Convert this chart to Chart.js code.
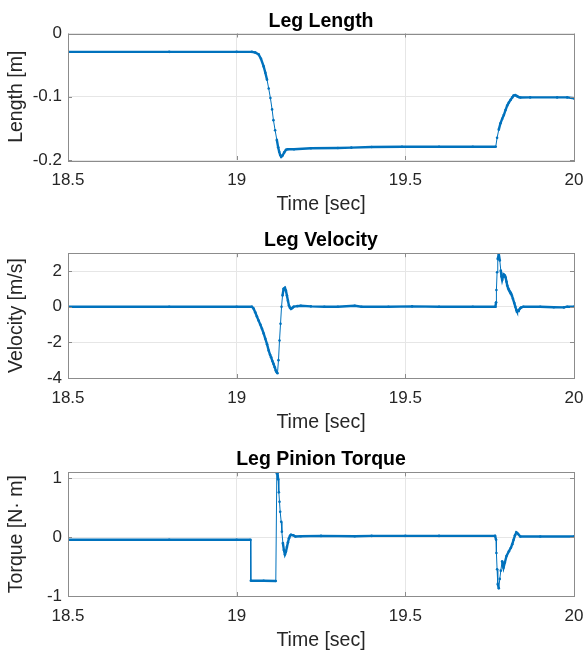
<!DOCTYPE html>
<html>
<head>
<meta charset="utf-8">
<script src="https://cdn.jsdelivr.net/npm/chart.js@4.4.1/dist/chart.umd.min.js"></script>
<style>
  body { margin: 0; background: #fff; }
  canvas { display: block; }
</style>
</head>
<body>
<canvas id="lengthChart" width="586" height="216"></canvas>
<canvas id="velocityChart" width="586" height="218"></canvas>
<canvas id="torqueChart" width="586" height="218"></canvas>
<script>
// Tick labels
const timeTicks = [18.5, 19, 19.5, 20];
const lengthTicks = [-0.2, -0.1, 0];
const velocityTicks = [-4, -2, 0, 2];
const torqueTicks = [-1, 0, 1];

// Leg length [m]
const lengthTime = [18.5, 18.8, 19.0, 19.045, 19.055, 19.065, 19.072, 19.08, 19.085, 19.09, 19.095, 19.1,
  19.105, 19.109, 19.114, 19.119, 19.123, 19.126, 19.129, 19.132, 19.136, 19.141, 19.146, 19.151, 19.17,
  19.22, 19.3, 19.34, 19.4, 19.49, 19.6, 19.7, 19.768, 19.772, 19.777, 19.782, 19.787, 19.792, 19.797,
  19.802, 19.807, 19.812, 19.817, 19.821, 19.826, 19.831, 19.836, 19.841, 19.87, 19.95, 19.98, 20.0];
const lengthValues = [-0.029, -0.029, -0.029, -0.029, -0.030, -0.033, -0.040, -0.052, -0.062, -0.073, -0.087, -0.102,
  -0.120, -0.137, -0.153, -0.168, -0.180, -0.187, -0.192, -0.195, -0.193, -0.188, -0.184, -0.183, -0.183,
  -0.1815, -0.181, -0.1805, -0.1795, -0.179, -0.179, -0.179, -0.179, -0.165, -0.152, -0.142, -0.135, -0.129, -0.121,
  -0.114, -0.109, -0.105, -0.101, -0.098, -0.0975, -0.099, -0.1005, -0.1013, -0.101, -0.101, -0.101, -0.1025];

// Leg velocity [m/s]
const velocityTime = [18.5, 18.8, 19.0, 19.045, 19.05, 19.055, 19.06, 19.065, 19.07, 19.075, 19.08, 19.085,
  19.09, 19.095, 19.099, 19.102, 19.106, 19.109, 19.113, 19.116, 19.119, 19.121, 19.124, 19.127, 19.13,
  19.133, 19.136, 19.139, 19.143, 19.146, 19.149, 19.152, 19.155, 19.158, 19.161, 19.165, 19.169, 19.18,
  19.19, 19.22, 19.26, 19.3, 19.35, 19.37, 19.45, 19.52, 19.6, 19.7, 19.767, 19.769, 19.77, 19.772, 19.774,
  19.777, 19.78, 19.783, 19.785, 19.787, 19.79, 19.792, 19.795, 19.797, 19.8, 19.802, 19.805, 19.807,
  19.81, 19.813, 19.816, 19.819, 19.823, 19.826, 19.829, 19.831, 19.834, 19.836, 19.84, 19.843, 19.85,
  19.9, 19.94, 19.97, 19.98, 20.0];
const velocityValues = [0, 0, 0, 0, -0.1, -0.31, -0.55, -0.78, -1.0, -1.24, -1.5, -1.8,
  -2.1, -2.46, -2.7, -2.83, -3.05, -3.2, -3.4, -3.58, -3.68, -3.73, -3.0, -1.9, -0.96,
  0.0, 0.63, 1.0, 1.06, 0.9, 0.63, 0.33, 0.07, -0.06, -0.12, -0.07, 0.0, 0.03,
  0.05, 0.02, 0.0, 0.0, 0.05, 0.0, 0.0, 0.02, 0.0, 0.0, 0.0, 0.25, 0.94, 1.93, 2.68,
  2.96, 2.59, 2.03, 1.7, 1.5, 1.72, 1.8, 1.75, 1.65, 1.4, 1.19, 1.02, 0.94,
  0.85, 0.76, 0.62, 0.44, 0.2, 0.0, -0.18, -0.26, -0.24, -0.2, -0.1, -0.05, 0.0,
  0.0, -0.03, -0.04, 0.0, 0.0];

// Leg pinion torque [N m]
const torqueTime = [18.5, 18.8, 19.0, 19.041, 19.042, 19.08, 19.116, 19.119, 19.121, 19.123, 19.125, 19.127,
  19.129, 19.132, 19.134, 19.137, 19.14, 19.143, 19.146, 19.149, 19.152, 19.155, 19.158, 19.161, 19.168,
  19.174, 19.19, 19.25, 19.35, 19.4, 19.5, 19.6, 19.766, 19.769, 19.77, 19.772, 19.774, 19.777, 19.78,
  19.783, 19.787, 19.791, 19.795, 19.8, 19.807, 19.813, 19.817, 19.821, 19.825, 19.829, 19.834, 19.841,
  19.9, 20.0];
const torqueValues = [-0.045, -0.045, -0.045, -0.045, -0.74, -0.742, -0.745, 1.08, 1.09, 0.98, 0.76, 0.6,
  0.43, 0.26, 0.09, -0.1, -0.22, -0.295, -0.25, -0.17, -0.09, -0.02, 0.02, 0.04, 0.03,
  0.01, 0.015, 0.02, 0.015, 0.02, 0.02, 0.02, 0.02, -0.045, -0.27, -0.545, -0.795, -0.87, -0.71,
  -0.57, -0.41, -0.52, -0.43, -0.32, -0.24, -0.18, -0.12, -0.045, 0.03, 0.08, 0.055, 0.01,
  0.01, 0.01];

const LINE_COLOR = '#0072BD';
const TEXT_COLOR = '#262626';
const GRID_COLOR = '#e6e6e6';
const BOX_COLOR = '#8c8c8c';

Chart.defaults.font.family = "'Liberation Sans', Arial, sans-serif";

// MATLAB style box with inward tick marks
const boxPlugin = {
    id: 'box',
    afterDraw(chart) {
        const { ctx, chartArea: a, scales } = chart;
        ctx.save();
        ctx.strokeStyle = BOX_COLOR;
        ctx.lineWidth = 1;
        ctx.strokeRect(Math.round(a.left) + 0.5, Math.round(a.top) + 0.5,
            Math.round(a.right - a.left), Math.round(a.bottom - a.top));
        ctx.beginPath();
        scales.x.ticks.forEach(t => {
            const px = Math.round(scales.x.getPixelForValue(t.value)) + 0.5;
            ctx.moveTo(px, a.bottom); ctx.lineTo(px, a.bottom - 4);
            ctx.moveTo(px, a.top); ctx.lineTo(px, a.top + 4);
        });
        scales.y.ticks.forEach(t => {
            const py = Math.round(scales.y.getPixelForValue(t.value)) + 0.5;
            ctx.moveTo(a.left, py); ctx.lineTo(a.left + 4, py);
            ctx.moveTo(a.right, py); ctx.lineTo(a.right - 4, py);
        });
        ctx.stroke();
        ctx.restore();
    }
};

// dense samples look thick, steep sparse ones look thin with dots
function segWidth(ctx) {
    const dx = Math.abs(ctx.p1.x - ctx.p0.x);
    const dy = Math.abs(ctx.p1.y - ctx.p0.y);
    return (dy > 8 && dy > 2.5 * dx) ? 1 : 2.4;
}

function makeChart(id, title, yLabel, times, values, yMin, yMax, yTicks, padTop) {
    const points = times.map((t, i) => ({ x: t, y: values[i] }));
    return new Chart(document.getElementById(id), {
        type: 'line',
        data: {
            datasets: [{
                data: points,
                borderColor: LINE_COLOR,
                backgroundColor: LINE_COLOR,
                borderWidth: 2.4,
                pointRadius: 1.3,
                pointBorderWidth: 0,
                pointBackgroundColor: LINE_COLOR,
                tension: 0,
                segment: { borderWidth: segWidth }
            }]
        },
        options: {
            responsive: false,
            animation: false,
            devicePixelRatio: 1,
            layout: { padding: { top: padTop, right: 12, left: 0, bottom: 0 } },
            plugins: {
                legend: { display: false },
                tooltip: { enabled: false },
                title: {
                    display: true,
                    text: title,
                    fullSize: false,
                    color: '#000',
                    font: { size: 19.5, weight: 'bold' },
                    padding: { top: 9.6, bottom: 0.5 }
                }
            },
            scales: {
                x: {
                    type: 'linear',
                    min: 18.5,
                    max: 20,
                    afterBuildTicks: s => { s.ticks = timeTicks.map(v => ({ value: v })); },
                    afterFit: s => { s.height = 56; s.paddingLeft = 0; s.paddingRight = 0; },
                    grid: { color: GRID_COLOR, drawTicks: false },
                    border: { display: false },
                    ticks: {
                        padding: 10, color: TEXT_COLOR, font: { size: 17 },
                        maxRotation: 0, autoSkip: false,
                        callback: v => v.toString()
                    },
                    title: {
                        display: true, text: 'Time [sec]', color: TEXT_COLOR,
                        font: { size: 19.5 }, padding: { top: 0, bottom: 0 }
                    }
                },
                y: {
                    min: yMin,
                    max: yMax,
                    afterBuildTicks: s => { s.ticks = yTicks.map(v => ({ value: v })); },
                    afterFit: s => { s.width = 68; s.paddingTop = 0; s.paddingBottom = 0; },
                    grid: { color: GRID_COLOR, drawTicks: false },
                    border: { display: false },
                    ticks: {
                        padding: 6, color: TEXT_COLOR, font: { size: 17 },
                        callback: v => v.toString()
                    },
                    title: {
                        display: true, text: yLabel, color: TEXT_COLOR,
                        font: { size: 19.5 }, padding: { top: 4.8, bottom: 0 }
                    }
                }
            }
        },
        plugins: [boxPlugin]
    });
}

makeChart('lengthChart', 'Leg Length', 'Length [m]', lengthTime, lengthValues, -0.2, 0, lengthTicks, 0);
makeChart('velocityChart', 'Leg Velocity', 'Velocity [m/s]', velocityTime, velocityValues, -4, 3, velocityTicks, 3.7);
makeChart('torqueChart', 'Leg Pinion Torque', 'Torque [N\u00B7 m]', torqueTime, torqueValues, -1, 1.1, torqueTicks, 4.8);
</script>
</body>
</html>
